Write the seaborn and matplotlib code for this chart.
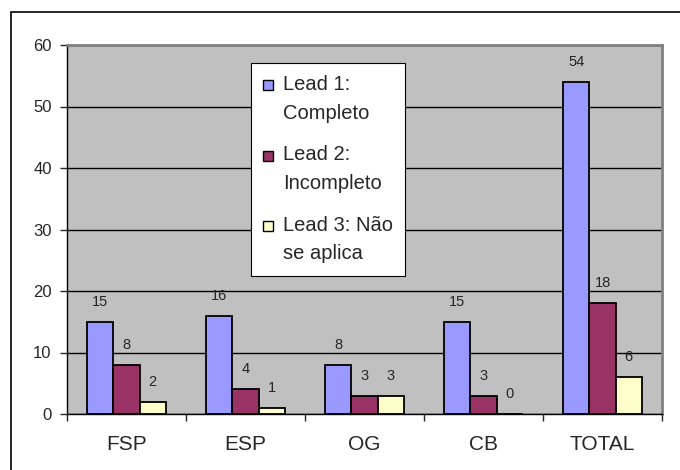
import pandas as pd
import matplotlib.pyplot as plt
import numpy as np
import seaborn as sns
from matplotlib.patches import Rectangle
from matplotlib.legend_handler import HandlerBase

categories = ['FSP', 'ESP', 'OG', 'CB', 'TOTAL']
series = ['Lead 1:\nCompleto', 'Lead 2:\nIncompleto', 'Lead 3: Não\nse aplica']
lead1 = [15, 16, 8, 15, 54]
lead2 = [8, 4, 3, 3, 18]
lead3 = [2, 1, 3, 0, 6]
colors = ['#9999FF', '#993366', '#FFFFCC']

df = pd.DataFrame({'cat': categories * 3,
                   'serie': [series[0]] * 5 + [series[1]] * 5 + [series[2]] * 5,
                   'val': lead1 + lead2 + lead3})

LS = 1.65  # line spacing inside legend labels


class TopSquare(HandlerBase):
    # excel-like legend key: small square next to the first line of a 2-line label
    def create_artists(self, legend, orig_handle, xdescent, ydescent, width, height, fontsize, trans):
        s = 7.2
        y0 = fontsize * (0.21 + 0.73 * LS) - 9
        p = Rectangle((-xdescent, y0), s, s, facecolor=orig_handle.get_facecolor(),
                      edgecolor='black', linewidth=1, transform=trans)
        return [p]


sns.set_style('white')
plt.rcParams['font.family'] = ['Liberation Sans', 'DejaVu Sans']

fig = plt.figure(figsize=(6.8, 4.7), dpi=100)
ax = fig.add_axes([67/680, 56/470, 595/680, 369/470])
fig.patches.append(Rectangle((11/680, -0.1), 1.2, 1 - 12/470 + 0.1, transform=fig.transFigure,
                             fill=False, edgecolor='black', linewidth=1.2))

sns.barplot(data=df, x='cat', y='val', hue='serie', palette=colors, width=0.66, gap=0,
            edgecolor='black', linewidth=1.3, ax=ax, saturation=1)
ax.set_facecolor('#C0C0C0')
ax.set_ylim(0, 60)
ax.set_xlim(-0.5, 4.5)
ax.set_yticks(range(0, 61, 10))
ax.yaxis.grid(True, color='black', linewidth=1)
ax.set_axisbelow(True)
ax.set_xlabel('')
ax.set_ylabel('')
for s in ['top', 'right']:
    ax.spines[s].set_color('#808080')
    ax.spines[s].set_linewidth(2)
for s in ['left', 'bottom']:
    ax.spines[s].set_color('black')
    ax.spines[s].set_linewidth(1)

ax.tick_params(axis='y', labelsize=12, length=5, width=1, direction='out', left=True, pad=6)
ax.tick_params(axis='x', which='major', labelsize=15, length=0, pad=15)
ax.set_xticks(np.arange(-0.5, 5, 1), minor=True)
ax.tick_params(axis='x', which='minor', length=5, width=1, bottom=True, direction='out')

for cont in ax.containers:
    for bar in cont:
        h = bar.get_height()
        ax.annotate(f'{int(h)}', (bar.get_x() + bar.get_width() / 2, h), xytext=(0, 14.4),
                    textcoords='offset points', ha='center', va='center', fontsize=10.5)

handles = [cont[0] for cont in ax.containers]
ax.get_legend().remove()
leg = ax.legend(handles, series, handler_map={h: TopSquare() for h in handles},
                loc='upper left', bbox_to_anchor=((251 - 67) / 595, (414 - 63) / 369),
                frameon=True, fancybox=False, edgecolor='black', framealpha=1,
                fontsize=14.5, handlelength=0.5, handleheight=0.7, labelspacing=1.12,
                handletextpad=0.5, borderpad=0.6, borderaxespad=0)
leg.get_frame().set_linewidth(0.8)
for t in leg.get_texts():
    t.set_linespacing(LS)

fig.savefig('out.png', dpi=100)
